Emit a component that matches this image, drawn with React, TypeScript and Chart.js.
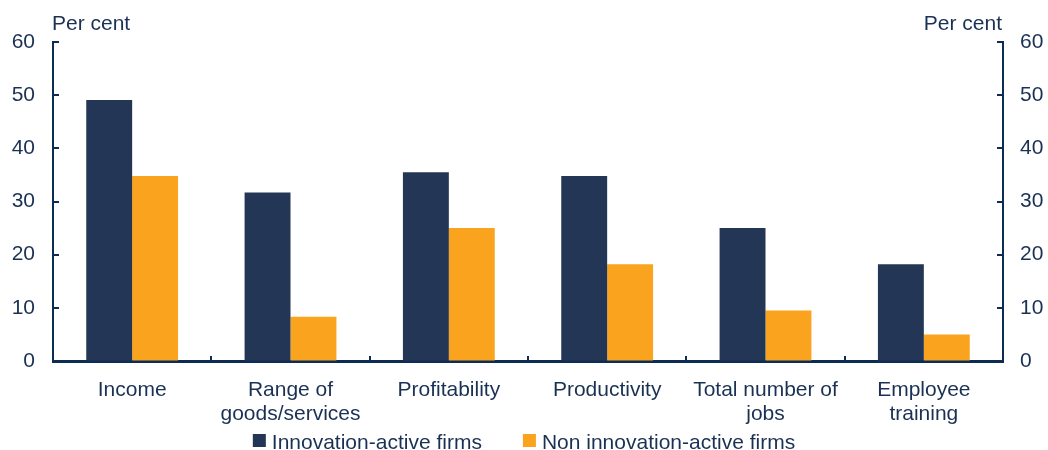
import React, { useEffect, useRef } from "react";
import { Chart, registerables } from "chart.js";

Chart.register(...registerables);

const categories: (string | string[])[] = [
  "Income",
  ["Range of", "goods/services"],
  "Profitability",
  "Productivity",
  ["Total number of", "jobs"],
  ["Employee", "training"],
];
const innovationActive = [49.1, 31.7, 35.5, 34.8, 25.0, 18.2];
const nonInnovationActive = [34.8, 8.3, 25.0, 18.2, 9.5, 5.0];
const yTicks = [0, 10, 20, 30, 40, 50, 60];
const unitLabel = "Per cent";

const NAVY = "#243656";
const ORANGE = "#F9A31E";
const AXIS = "#0c2c54";
const TEXT = "#1a3154";
const FONT = "Arial, 'Liberation Sans', sans-serif";

const decorPlugin = {
  id: "decor",
  afterDraw(chart: any) {
    const { ctx, chartArea } = chart;
    ctx.save();
    // unit titles
    ctx.font = `21px ${FONT}`;
    ctx.fillStyle = TEXT;
    ctx.textBaseline = "alphabetic";
    ctx.textAlign = "left";
    ctx.fillText(unitLabel, chartArea.left - 1, 30);
    ctx.textAlign = "right";
    ctx.fillText(unitLabel, chartArea.right - 1, 30);

    // inward tick marks
    ctx.strokeStyle = AXIS;
    ctx.lineWidth = 2;
    const y = chart.scales.y;
    const y2 = chart.scales.y2;
    yTicks.forEach((v) => {
      const py = Math.round(y.getPixelForValue(v));
      ctx.beginPath();
      ctx.moveTo(chartArea.left, py);
      ctx.lineTo(chartArea.left + 6, py);
      ctx.stroke();
      const py2 = Math.round(y2.getPixelForValue(v));
      ctx.beginPath();
      ctx.moveTo(chartArea.right, py2);
      ctx.lineTo(chartArea.right - 6, py2);
      ctx.stroke();
    });
    const x = chart.scales.x;
    for (let i = 0; i < categories.length - 1; i++) {
      const px = Math.round((x.getPixelForValue(i) + x.getPixelForValue(i + 1)) / 2);
      ctx.beginPath();
      ctx.moveTo(px, chartArea.bottom);
      ctx.lineTo(px, chartArea.bottom - 5);
      ctx.stroke();
    }

    // legend
    const items = chart.data.datasets.map((d: any) => ({
      label: d.label as string,
      color: d.backgroundColor as string,
    }));
    ctx.font = `21px ${FONT}`;
    const box = 13;
    const gapBoxText = 6;
    const gapItems = 41;
    const widths = items.map((it: any) => box + gapBoxText + ctx.measureText(it.label).width);
    const total = widths.reduce((a: number, b: number) => a + b, 0) + gapItems * (items.length - 1);
    let cx = (chartArea.left + chartArea.right) / 2 - total / 2 - 4;
    const baseline = 449;
    items.forEach((it: any, i: number) => {
      ctx.fillStyle = it.color;
      ctx.fillRect(cx, 434, box, box);
      ctx.fillStyle = TEXT;
      ctx.textAlign = "left";
      ctx.fillText(it.label, cx + box + gapBoxText, baseline);
      cx += widths[i] + gapItems;
    });
    ctx.restore();
  },
};

export default function App() {
  const ref = useRef<HTMLCanvasElement>(null);
  useEffect(() => {
    const yCommon = (position: "left" | "right") => ({
      type: "linear" as const,
      position,
      min: 0,
      max: 60,
      afterBuildTicks: (scale: any) => {
        scale.ticks = yTicks.map((v) => ({ value: v }));
      },
      afterFit: (scale: any) => {
        scale.width = position === "left" ? 53 : 45;
      },
      border: { display: true, color: AXIS, width: 2 },
      grid: { drawOnChartArea: false, drawTicks: false },
      ticks: {
        color: TEXT,
        font: { family: FONT, size: 21 },
        padding: position === "left" ? 18 : 17,
      },
    });
    const chart = new Chart(ref.current!, {
      type: "bar",
      data: {
        labels: categories,
        datasets: [
          {
            label: "Innovation-active firms",
            data: innovationActive,
            backgroundColor: NAVY,
            yAxisID: "y",
          },
          {
            label: "Non innovation-active firms",
            data: nonInnovationActive,
            backgroundColor: ORANGE,
            yAxisID: "y",
          },
        ],
      },
      options: {
        animation: false,
        responsive: true,
        maintainAspectRatio: false,
        datasets: {
          bar: { barPercentage: 1, categoryPercentage: 0.58 },
        },
        layout: { padding: { top: 42, bottom: 19, left: 0, right: 0 } },
        scales: {
          x: {
            afterFit: (scale: any) => {
              scale.height = 70;
            },
            border: { display: true, color: AXIS, width: 3 },
            grid: { drawOnChartArea: false, drawTicks: false },
            ticks: {
              color: TEXT,
              font: { family: FONT, size: 21, lineHeight: 1.15 },
              padding: 17,
              maxRotation: 0,
              autoSkip: false,
            },
          },
          y: yCommon("left"),
          y2: yCommon("right"),
        },
        plugins: {
          legend: { display: false },
          tooltip: { enabled: false },
        },
      },
      plugins: [decorPlugin],
    });
    return () => chart.destroy();
  }, []);
  return (
    <div style={{ position: "fixed", left: 0, top: 0, width: 1048, height: 450, background: "#fff" }}>
      <canvas ref={ref} />
    </div>
  );
}
